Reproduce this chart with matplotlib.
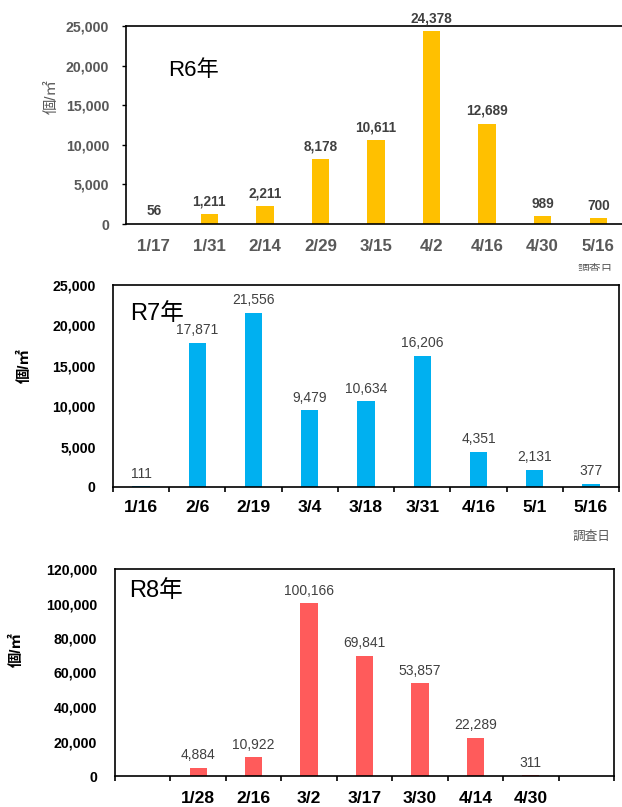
import matplotlib.pyplot as plt
from matplotlib.patches import Rectangle
from matplotlib.ticker import FuncFormatter
import numpy as np

plt.rcParams["font.family"] = ["Liberation Sans", "Noto Sans CJK JP"]

W, H = 622, 807

r6_dates = ["1/17", "1/31", "2/14", "2/29", "3/15", "4/2", "4/16", "4/30", "5/16"]
r6_counts = [56, 1211, 2211, 8178, 10611, 24378, 12689, 989, 700]

r7_dates = ["1/16", "2/6", "2/19", "3/4", "3/18", "3/31", "4/16", "5/1", "5/16"]
r7_counts = [111, 17871, 21556, 9479, 10634, 16206, 4351, 2131, 377]

# R8: first and last slots on the axis are empty
r8_dates = ["1/28", "2/16", "3/2", "3/17", "3/30", "4/14", "4/30"]
r8_counts = [4884, 10922, 100166, 69841, 53857, 22289, 311]

GRAY = "#595959"
DARK = "#404040"
thousands = FuncFormatter(lambda v, _: f"{v:,.0f}")


def fx(px):
    return px / W


def fy(py):
    return 1 - py / H


def px_axes(fig, left, top, right, bottom):
    return fig.add_axes([fx(left), fy(bottom), (right - left) / W, (bottom - top) / H])


def style_box(ax, ymax, ystep, ylab_color, ylab_weight, ytick_len, ypad):
    ax.set_xlim(-0.5, 8.5)
    ax.set_ylim(0, ymax)
    ax.set_yticks(np.arange(0, ymax + 1, ystep))
    ax.yaxis.set_major_formatter(thousands)
    ax.tick_params(axis="y", length=ytick_len, width=1, pad=ypad, labelsize=10.2,
                   labelcolor=ylab_color, color="black")
    for lab in ax.get_yticklabels():
        lab.set_fontweight(ylab_weight)
    for sp in ax.spines.values():
        sp.set_linewidth(1.2)
        sp.set_color("black")


def main():
    fig = plt.figure(figsize=(W / 100, H / 100), dpi=100)

    # ---- R6 ----
    ax1 = px_axes(fig, 126, 26, 626, 224)
    x6 = np.arange(len(r6_dates))
    bars = ax1.bar(x6, r6_counts, width=0.31, color="#FFC000")
    ax1.bar_label(bars, labels=[f"{v:,}" for v in r6_counts], padding=4,
                  fontsize=9.8, fontweight="bold", color=DARK)
    style_box(ax1, 25000, 5000, GRAY, "bold", 3, 9)
    ax1.set_xticks(x6)
    ax1.set_xticklabels(r6_dates, fontsize=12.2, fontweight="bold", color=GRAY)
    ax1.tick_params(axis="x", length=0, pad=11)
    ax1.spines["right"].set_visible(False)
    fig.text(fx(193), fy(70), "R6年", fontsize=16, ha="center", va="center")
    fig.text(fx(52), fy(97), "個/㎡", fontsize=11, color=GRAY, rotation=90,
             ha="center", va="center")
    fig.text(fx(595), fy(270), "調査日", fontsize=8.5, color=GRAY,
             ha="center", va="center")
    # the lower half of this label is hidden in the original
    fig.add_artist(Rectangle((fx(560), fy(281)), fx(62), 10 / H,
                             transform=fig.transFigure, color="white", zorder=5))

    # ---- R7 ----
    ax2 = px_axes(fig, 113, 285, 619, 487)
    x7 = np.arange(len(r7_dates))
    bars = ax2.bar(x7, r7_counts, width=0.31, color="#00B0F0")
    ax2.bar_label(bars, labels=[f"{v:,}" for v in r7_counts], padding=4,
                  fontsize=10, color=DARK)
    style_box(ax2, 25000, 5000, "black", "bold", 0, 12.5)
    ax2.set_xticks(x7)
    ax2.set_xticklabels(r7_dates, fontsize=12.6, fontweight="bold")
    ax2.set_xticks(np.arange(-0.5, 9), minor=True)
    ax2.tick_params(axis="x", which="major", length=0, pad=9.5)
    ax2.tick_params(axis="x", which="minor", length=3.6, width=1.2)
    fig.text(fx(157), fy(314), "R7年", fontsize=17, ha="center", va="center")
    fig.text(fx(25), fy(366), "個/㎡", fontsize=11, fontweight="bold", rotation=90,
             ha="center", va="center")
    fig.text(fx(591), fy(537), "調査日", fontsize=9.1, color=GRAY,
             ha="center", va="center")

    # ---- R8 ----
    ax3 = px_axes(fig, 115, 569, 614, 776)
    x8 = np.arange(1, len(r8_dates) + 1)
    bars = ax3.bar(x8, r8_counts, width=0.31, color="#FF5B5B")
    ax3.bar_label(bars, labels=[f"{v:,}" for v in r8_counts], padding=4,
                  fontsize=10, color=DARK)
    style_box(ax3, 120000, 20000, "black", "bold", 0, 13)
    ax3.set_xticks(x8)
    ax3.set_xticklabels(r8_dates, fontsize=12.6, fontweight="bold")
    ax3.set_xticks(np.arange(-0.5, 9), minor=True)
    ax3.tick_params(axis="x", which="major", length=0, pad=10.5)
    ax3.tick_params(axis="x", which="minor", length=3.6, width=1.2)
    fig.text(fx(156), fy(591), "R8年", fontsize=17, ha="center", va="center")
    fig.text(fx(17), fy(650), "個/㎡", fontsize=11, fontweight="bold", rotation=90,
             ha="center", va="center")

    fig.savefig("out.png", dpi=100)
    plt.close(fig)


if __name__ == "__main__":
    main()
